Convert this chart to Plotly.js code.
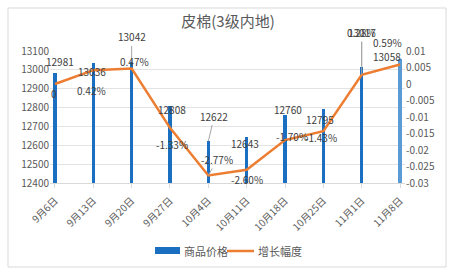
<!DOCTYPE html>
<html><head><meta charset="utf-8">
<script src="https://cdn.plot.ly/plotly-3.0.1.min.js"></script>
<style>html,body{margin:0;padding:0;background:#fff;}#chart{width:456px;height:275px;}</style>
</head><body><div id="chart"></div>
<script>
const categories = ['9月6日','9月13日','9月20日','9月27日','10月4日','10月11日','10月18日','10月25日','11月1日','11月8日'];
const prices = [12981,13036,13042,12808,12622,12643,12760,12795,13017,13058];
const growth = [0,0.0042,0.0047,-0.0133,-0.0277,-0.0260,-0.0170,-0.0143,0.0028,0.0059];
const growthLabels = ['0','0.42%','0.47%','-1.33%','-2.77%','-2.60%','-1.70%','-1.43%','0.28%','0.59%'];
const leftTicks = [12400,12500,12600,12700,12800,12900,13000,13100];
const rightTicks = [-0.03,-0.025,-0.02,-0.015,-0.01,-0.005,0,0.005,0.01];
const rightTickText = ['-0.03','-0.025','-0.02','-0.015','-0.01','-0.005','0','0.005','0.01'];
const seriesNames = ['商品价格','增长幅度'];

// label placement (pixel offsets: xshift, yshift(up positive) or arrow ax, ay(down positive)), style only
const priceOff = [[5,12,0],[-1,-8,0],[0,-25,1],[2,-3,0],[6,-25,1],[-2,-6,0],[3,6,0],[-3,-11,0],[0,-34,1],[-13,2,0]];
const growthOff = [[-1,-9,0],[-2,-20,0],[3,7,0],[2,-17,0],[9,-16,1],[0,-10,0],[7,4,0],[-2,-6,0],[0,-42,1],[-13,22,0]];

const gray = '#595959', lab = '#404040';
const fontCJK = '"Noto Sans CJK SC", "Noto Sans", sans-serif';
const annotations = [];
function addLabel(xv, yv, yref, text, o){
  const a = {x: xv, y: yv, xref:'x', yref:yref, text: text, font:{size:10,color:lab,family:fontCJK}};
  if (o[2]) { Object.assign(a,{showarrow:true, arrowhead:0, arrowwidth:1, arrowcolor:'#a6a6a6', ax:o[0], ay:o[1], standoff:0}); }
  else { Object.assign(a,{showarrow:false, xshift:o[0], yshift:o[1]}); }
  annotations.push(a);
}
prices.forEach((v,i)=> addLabel(categories[i], v, 'y', String(v), priceOff[i]));
growth.forEach((v,i)=> addLabel(categories[i], v, 'y2', growthLabels[i], growthOff[i]));

// custom legend
const PW = 355, PH = 132, L = 50, T = 51;
const px = x => (x - L) / PW;
const py = y => (T + PH - y) / PH;
annotations.push({xref:'paper',yref:'paper',x:px(182),y:py(251),xanchor:'left',yanchor:'middle',showarrow:false,text:seriesNames[0],font:{size:11,color:gray,family:fontCJK}});
annotations.push({xref:'paper',yref:'paper',x:px(256),y:py(251),xanchor:'left',yanchor:'middle',showarrow:false,text:seriesNames[1],font:{size:11,color:gray,family:fontCJK}});

const shapes = [
  {type:'rect',xref:'paper',yref:'paper',x0:px(8),x1:px(446),y0:py(267),y1:py(8),line:{color:'#d9d9d9',width:1},fillcolor:'rgba(0,0,0,0)',layer:'below'},
  {type:'rect',xref:'paper',yref:'paper',x0:px(155),x1:px(180),y0:py(254),y1:py(247),line:{width:0},fillcolor:'#1a6fc0'},
  {type:'line',xref:'paper',yref:'paper',x0:px(227),x1:px(254),y0:py(251),y1:py(251),line:{color:'#ED7D31',width:2.5}}
];

const barColors = prices.map((v,i)=> i===prices.length-1 ? '#5b9bd5' : '#1a6fc0');
const barWidths = prices.map((v,i)=> i===prices.length-1 ? 0.11 : 0.08);

const data = [
  {type:'bar', name:seriesNames[0], x:categories, y:prices, marker:{color:barColors}, width:barWidths, yaxis:'y', hoverinfo:'skip'},
  {type:'scatter', mode:'lines', name:seriesNames[1], x:categories, y:growth, line:{color:'#ED7D31',width:2.5}, yaxis:'y2', hoverinfo:'skip'}
];

const layout = {
  width:456, height:275,
  margin:{l:L, r:456-L-PW, t:T, b:275-T-PH},
  paper_bgcolor:'#fff', plot_bgcolor:'#fff',
  showlegend:false,
  font:{family:fontCJK, color:gray},
  title:{text:'皮棉(3级内地)', x:0.5, xanchor:'center', y:1-22/275, yanchor:'middle', font:{size:15,color:gray,family:fontCJK}},
  xaxis:{type:'category', range:[-0.13,9.13], showline:true, linecolor:'#d9d9d9', linewidth:1, ticks:'outside', ticklen:4, tickcolor:'#d9d9d9', tickangle:-45, ticklabelstandoff:3, tickfont:{size:10,color:gray,family:fontCJK}, showgrid:false, zeroline:false, fixedrange:true},
  yaxis:{range:[12400,13100], tickvals:leftTicks, ticktext:leftTicks.map(String), showgrid:true, gridcolor:'#e3e3e3', gridwidth:1, zeroline:false, showline:false, ticks:'', tickfont:{size:10,color:gray,family:fontCJK}},
  yaxis2:{range:[-0.03,0.01], overlaying:'y', side:'right', tickvals:rightTicks, ticktext:rightTickText, showgrid:false, zeroline:false, showline:false, ticks:'', tickfont:{size:10,color:gray,family:fontCJK}},
  bargap:0,
  annotations:annotations,
  shapes:shapes
};
Plotly.newPlot('chart', data, layout, {staticPlot:true, displayModeBar:false});
</script></body></html>
